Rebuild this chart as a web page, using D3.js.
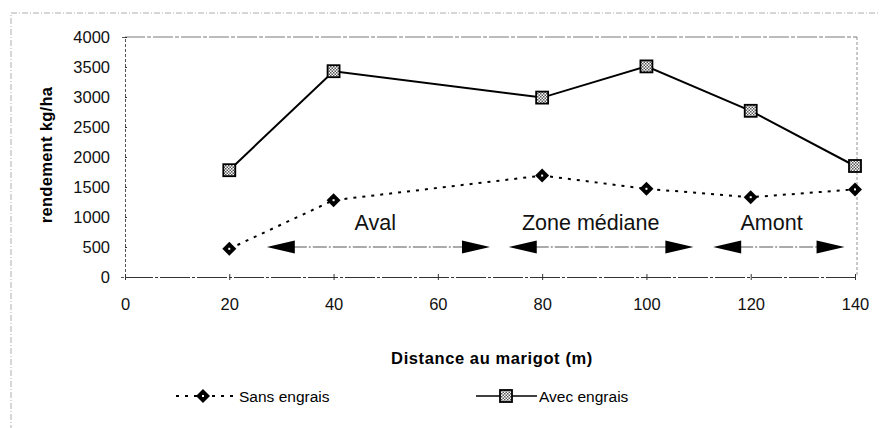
<!DOCTYPE html>
<html><head><meta charset="utf-8">
<script src="https://cdn.jsdelivr.net/npm/d3@7/dist/d3.min.js"></script>
<style>body{margin:0;background:#fff}svg{display:block;font-family:Arial,"Liberation Sans",sans-serif}</style>
</head><body><svg id="c" width="880" height="428"></svg>
<script>
const distances = [20, 40, 80, 100, 120, 140];
const sansEngrais = [470, 1280, 1690, 1470, 1330, 1460];
const avecEngrais = [1780, 3430, 2990, 3510, 2770, 1850];
const xTicks = [0, 20, 40, 60, 80, 100, 120, 140];
const yTicks = [0, 500, 1000, 1500, 2000, 2500, 3000, 3500, 4000];
const zones = [
  {label: "Aval", from: 27.2, to: 70, y: 500, labelX: 48},
  {label: "Zone médiane", from: 73.6, to: 109, y: 500, labelX: 89.3},
  {label: "Amont", from: 112.8, to: 138, y: 500, labelX: 124}
];
const seriesNames = ["Sans engrais", "Avec engrais"];

const svg = d3.select("#c");
const x = d3.scaleLinear().domain([0, 140]).range([125, 855]);
const y = d3.scaleLinear().domain([0, 4000]).range([277, 37]);

const defs = svg.append("defs");
const pat = defs.append("pattern").attr("id","chk").attr("width",3).attr("height",3).attr("patternUnits","userSpaceOnUse");
pat.append("rect").attr("width",3).attr("height",3).attr("fill","#fff");
pat.append("rect").attr("width",1.5).attr("height",1.5).attr("fill","#555");
pat.append("rect").attr("x",1.5).attr("y",1.5).attr("width",1.5).attr("height",1.5).attr("fill","#555");

// outer frame
svg.append("rect").attr("x",11).attr("y",13).attr("width",880).attr("height",440)
  .attr("fill","none").attr("stroke","#999").attr("stroke-width",0.8).attr("stroke-dasharray","6,2,1,2");

// plot border top and right
svg.append("line").attr("x1",125).attr("x2",857).attr("y1",37).attr("y2",37)
  .attr("stroke","#555").attr("stroke-width",0.8).attr("stroke-dasharray","20,2,4,2");
svg.append("line").attr("x1",857).attr("x2",857).attr("y1",37).attr("y2",277)
  .attr("stroke","#777").attr("stroke-width",0.8).attr("stroke-dasharray","3,2");

const fontFam = "Arial, Liberation Sans, sans-serif";
const yAxis = svg.append("g").attr("transform","translate(125,0)")
  .call(d3.axisLeft(y).tickValues(yTicks).tickSize(4).tickPadding(11).tickFormat(d3.format("d")));
yAxis.select(".domain").attr("stroke","#555").attr("stroke-dasharray","3,2");
yAxis.selectAll(".tick line").attr("x2",2).attr("stroke","#333");
yAxis.selectAll("text").attr("font-size",16.5).attr("fill","#111").attr("font-family",fontFam);

const xAxis = svg.append("g").attr("transform","translate(0,277)")
  .call(d3.axisBottom(x).tickValues(xTicks).tickSize(3).tickPadding(18).tickFormat(d3.format("d")));
xAxis.select(".domain").attr("stroke","#333").attr("stroke-dasharray","30,2,3,2");
xAxis.selectAll(".tick line").attr("y1",-3).attr("stroke","#333");
xAxis.selectAll("text").attr("font-size",16.5).attr("fill","#111").attr("font-family",fontFam);

// axis titles
svg.append("text").attr("transform","translate(52,155) rotate(-90)").attr("text-anchor","middle")
  .attr("font-size",16.5).attr("font-weight","bold").attr("letter-spacing",0.3).text("rendement kg/ha");
svg.append("text").attr("x",492).attr("y",364).attr("text-anchor","middle")
  .attr("font-size",16.5).attr("font-weight","bold").attr("letter-spacing",0.6).text("Distance au marigot (m)");

// zone arrows
zones.forEach(z => {
  const x1 = x(z.from), x2 = x(z.to), yy = y(z.y);
  svg.append("line").attr("x1",x1+26).attr("x2",x2-26).attr("y1",yy).attr("y2",yy)
    .attr("stroke","#444").attr("stroke-width",0.9).attr("stroke-dasharray","14,2,2,2");
  svg.append("path").attr("d",`M${x1},${yy} L${x1+28},${yy-6.5} L${x1+28},${yy+6.5} Z`).attr("fill","#000");
  svg.append("path").attr("d",`M${x2},${yy} L${x2-28},${yy-6.5} L${x2-28},${yy+6.5} Z`).attr("fill","#000");
  svg.append("text").attr("x",x(z.labelX)).attr("y",230).attr("text-anchor","middle")
    .attr("font-size",21.5).attr("fill","#111").text(z.label);
});

const line = d3.line().x(d=>x(d[0])).y(d=>y(d[1]));
const sansData = distances.map((d,i)=>[d,sansEngrais[i]]);
const avecData = distances.map((d,i)=>[d,avecEngrais[i]]);

svg.append("path").datum(sansData).attr("d",line).attr("fill","none").attr("stroke","#000")
  .attr("stroke-width",2).attr("stroke-dasharray","3,6");
svg.append("path").datum(avecData).attr("d",line).attr("fill","none").attr("stroke","#000")
  .attr("stroke-width",2);

function diamond(g, cx, cy){
  g.append("path").attr("d",`M${cx},${cy-7} L${cx+7},${cy} L${cx},${cy+7} L${cx-7},${cy} Z`).attr("fill","#000");
  g.append("rect").attr("x",cx-1).attr("y",cy-1).attr("width",2).attr("height",2).attr("fill","#fff");
}
function square(g, cx, cy){
  g.append("rect").attr("x",cx-6).attr("y",cy-6).attr("width",12).attr("height",12)
    .attr("fill","url(#chk)").attr("stroke","#000").attr("stroke-width",1.8);
}
const mk = svg.append("g");
sansData.forEach(d=>diamond(mk, x(d[0]), y(d[1])));
avecData.forEach(d=>square(mk, x(d[0]), y(d[1])));

// legend
const ly = 396;
svg.append("line").attr("x1",176).attr("x2",238).attr("y1",ly).attr("y2",ly).attr("stroke","#000")
  .attr("stroke-width",2).attr("stroke-dasharray","3,6");
diamond(svg, 203, ly);
svg.append("text").attr("x",239).attr("y",ly+5.5).attr("font-size",15.5).text(seriesNames[0]);
svg.append("line").attr("x1",476).attr("x2",537).attr("y1",ly).attr("y2",ly).attr("stroke","#000").attr("stroke-width",1.5);
square(svg, 506, ly);
svg.append("text").attr("x",539).attr("y",ly+5.5).attr("font-size",15.5).text(seriesNames[1]);
</script></body></html>
